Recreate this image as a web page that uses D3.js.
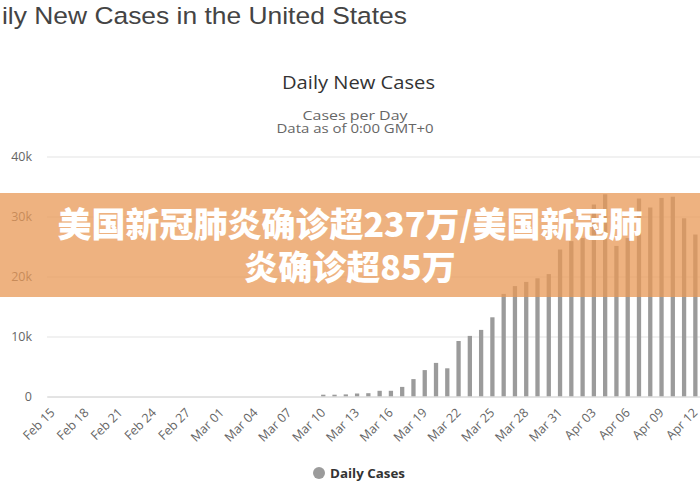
<!DOCTYPE html>
<html>
<head>
<meta charset="utf-8">
<script src="https://cdn.jsdelivr.net/npm/d3@7"></script>
<style>
  html, body { margin: 0; padding: 0; background: #fff; }
  svg { display: block; }
</style>
</head>
<body>
<div id="chart"></div>
<script>
// categories: one bar per day
var dates = [
  "Feb 15","Feb 16","Feb 17","Feb 18","Feb 19","Feb 20","Feb 21","Feb 22","Feb 23","Feb 24",
  "Feb 25","Feb 26","Feb 27","Feb 28","Feb 29","Mar 01","Mar 02","Mar 03","Mar 04","Mar 05",
  "Mar 06","Mar 07","Mar 08","Mar 09","Mar 10","Mar 11","Mar 12","Mar 13","Mar 14","Mar 15",
  "Mar 16","Mar 17","Mar 18","Mar 19","Mar 20","Mar 21","Mar 22","Mar 23","Mar 24","Mar 25",
  "Mar 26","Mar 27","Mar 28","Mar 29","Mar 30","Mar 31","Apr 01","Apr 02","Apr 03","Apr 04",
  "Apr 05","Apr 06","Apr 07","Apr 08","Apr 09","Apr 10","Apr 11","Apr 12"
];

// daily new cases
var dailyCases = [
  0, 0, 0, 0, 0, 0, 0, 0, 0, 0,
  0, 0, 0, 0, 0, 0, 0, 0, 0, 0,
  0, 0, 0, 0, 300, 300, 350, 500, 550, 950,
  950, 1600, 2900, 4400, 5600, 4700, 9250, 10100, 11100, 13200,
  17100, 18400, 19100, 19700, 20400, 24500, 25900, 26400, 32000, 33700,
  25100, 26400, 33000, 31500, 33100, 33300, 29700, 27000
];

var xTickLabels = dates.filter(function(d, i) { return i % 3 === 0; });
var yTicks = [0, 10000, 20000, 30000, 40000];

var pageTitle = "Daily New Cases in the United States";
var chartTitle = "Daily New Cases";
var subTitles = ["Cases per Day", "Data as of 0:00 GMT+0"];
var legendLabel = "Daily Cases";
var bannerLines = ["美国新冠肺炎确诊超237万/美国新冠肺", "炎确诊超85万"];

var width = 700, height = 490;
var plotLeft = 47, plotRight = 701, plotTop = 156.5, plotBottom = 396.5;
var barColor = "#9b9b9b";
var sans = "'Open Sans', 'DejaVu Sans', sans-serif";

var svg = d3.select("#chart").append("svg")
    .attr("width", width)
    .attr("height", height);

// page heading, cut off on the left like the screenshot
var head = svg.append("g")
    .attr("fill", "#444")
    .style("font-family", "'Liberation Sans', Arial, sans-serif")
    .style("font-size", "24.5px");
head.append("text")
    .attr("x", -1)
    .attr("y", 23.5)
    .attr("text-anchor", "end")
    .text(pageTitle.slice(0, 2));
head.append("text")
    .attr("x", 2)
    .attr("y", 23.5)
    .attr("textLength", 405)
    .attr("lengthAdjust", "spacingAndGlyphs")
    .text(pageTitle.slice(2));

// chart titles (screenshot is a bit wide, so fit widths)
svg.append("text")
    .attr("x", 282)
    .attr("y", 88.5)
    .attr("fill", "#333")
    .attr("textLength", 153)
    .attr("lengthAdjust", "spacingAndGlyphs")
    .style("font-family", sans)
    .style("font-size", "18.5px")
    .text(chartTitle);

var subWidths = [105, 157];
svg.selectAll(".subtitle")
    .data(subTitles)
    .enter().append("text")
    .attr("class", "subtitle")
    .attr("x", function(d, i) { return 355 - subWidths[i] / 2; })
    .attr("y", function(d, i) { return 119.5 + i * 13.5; })
    .attr("fill", "#666")
    .attr("textLength", function(d, i) { return subWidths[i]; })
    .attr("lengthAdjust", "spacingAndGlyphs")
    .style("font-family", sans)
    .style("font-size", "12px")
    .text(function(d) { return d; });

var x = d3.scaleBand()
    .domain(dates)
    .range([plotLeft, plotRight])
    .paddingInner(0.62)
    .paddingOuter(0.31);

var y = d3.scaleLinear()
    .domain([0, 40000])
    .range([plotBottom, plotTop]);

// y grid + labels
var yAxis = svg.append("g")
    .attr("transform", "translate(" + plotLeft + ",0)")
    .call(d3.axisLeft(y)
        .tickValues(yTicks)
        .tickSize(-(plotRight - plotLeft))
        .tickPadding(15)
        .tickFormat(function(d) { return d === 0 ? "0" : (d / 1000) + "k"; }));
yAxis.select(".domain").remove();
yAxis.selectAll(".tick line").attr("stroke", "#e3e3e3");
yAxis.selectAll(".tick text")
    .attr("fill", "#666")
    .style("font-family", sans)
    .style("font-size", "12.5px");

// bars
svg.append("g").selectAll("rect")
    .data(dailyCases)
    .enter().append("rect")
    .attr("x", function(d, i) { return x(dates[i]); })
    .attr("y", function(d) { return y(d); })
    .attr("width", x.bandwidth())
    .attr("height", function(d) { return plotBottom - y(d); })
    .attr("fill", barColor);

// x axis
var xAxis = svg.append("g")
    .attr("transform", "translate(0," + plotBottom + ")")
    .call(d3.axisBottom(x).tickValues(xTickLabels).tickSize(0).tickPadding(0));
xAxis.select(".domain").attr("stroke", "#d6d6d6");
xAxis.selectAll(".tick text")
    .attr("fill", "#666")
    .attr("text-anchor", "end")
    .attr("dy", null)
    .attr("y", 0)
    .attr("transform", "translate(3,17) rotate(-45)")
    .style("font-family", sans)
    .style("font-size", "12.5px");

// legend
var legend = svg.append("g").attr("transform", "translate(319,473)");
legend.append("circle").attr("r", 6).attr("fill", barColor);
legend.append("text")
    .attr("x", 11)
    .attr("y", 4.5)
    .attr("fill", "#333")
    .attr("textLength", 75)
    .attr("lengthAdjust", "spacingAndGlyphs")
    .style("font-family", sans)
    .style("font-size", "12.5px")
    .style("font-weight", "bold")
    .text(legendLabel);

// orange headline banner over the chart
svg.append("rect")
    .attr("x", 0)
    .attr("y", 193)
    .attr("width", width)
    .attr("height", 104)
    .attr("fill", "rgba(232,152,86,0.75)");

svg.selectAll(".banner")
    .data(bannerLines)
    .enter().append("text")
    .attr("class", "banner")
    .attr("x", 350)
    .attr("y", function(d, i) { return 237 + i * 43; })
    .attr("text-anchor", "middle")
    .attr("fill", "#fff")
    .style("font-family", "'Noto Sans CJK SC', sans-serif")
    .style("font-size", "34px")
    .style("font-weight", "900")
    .text(function(d) { return d; });
</script>
</body>
</html>
